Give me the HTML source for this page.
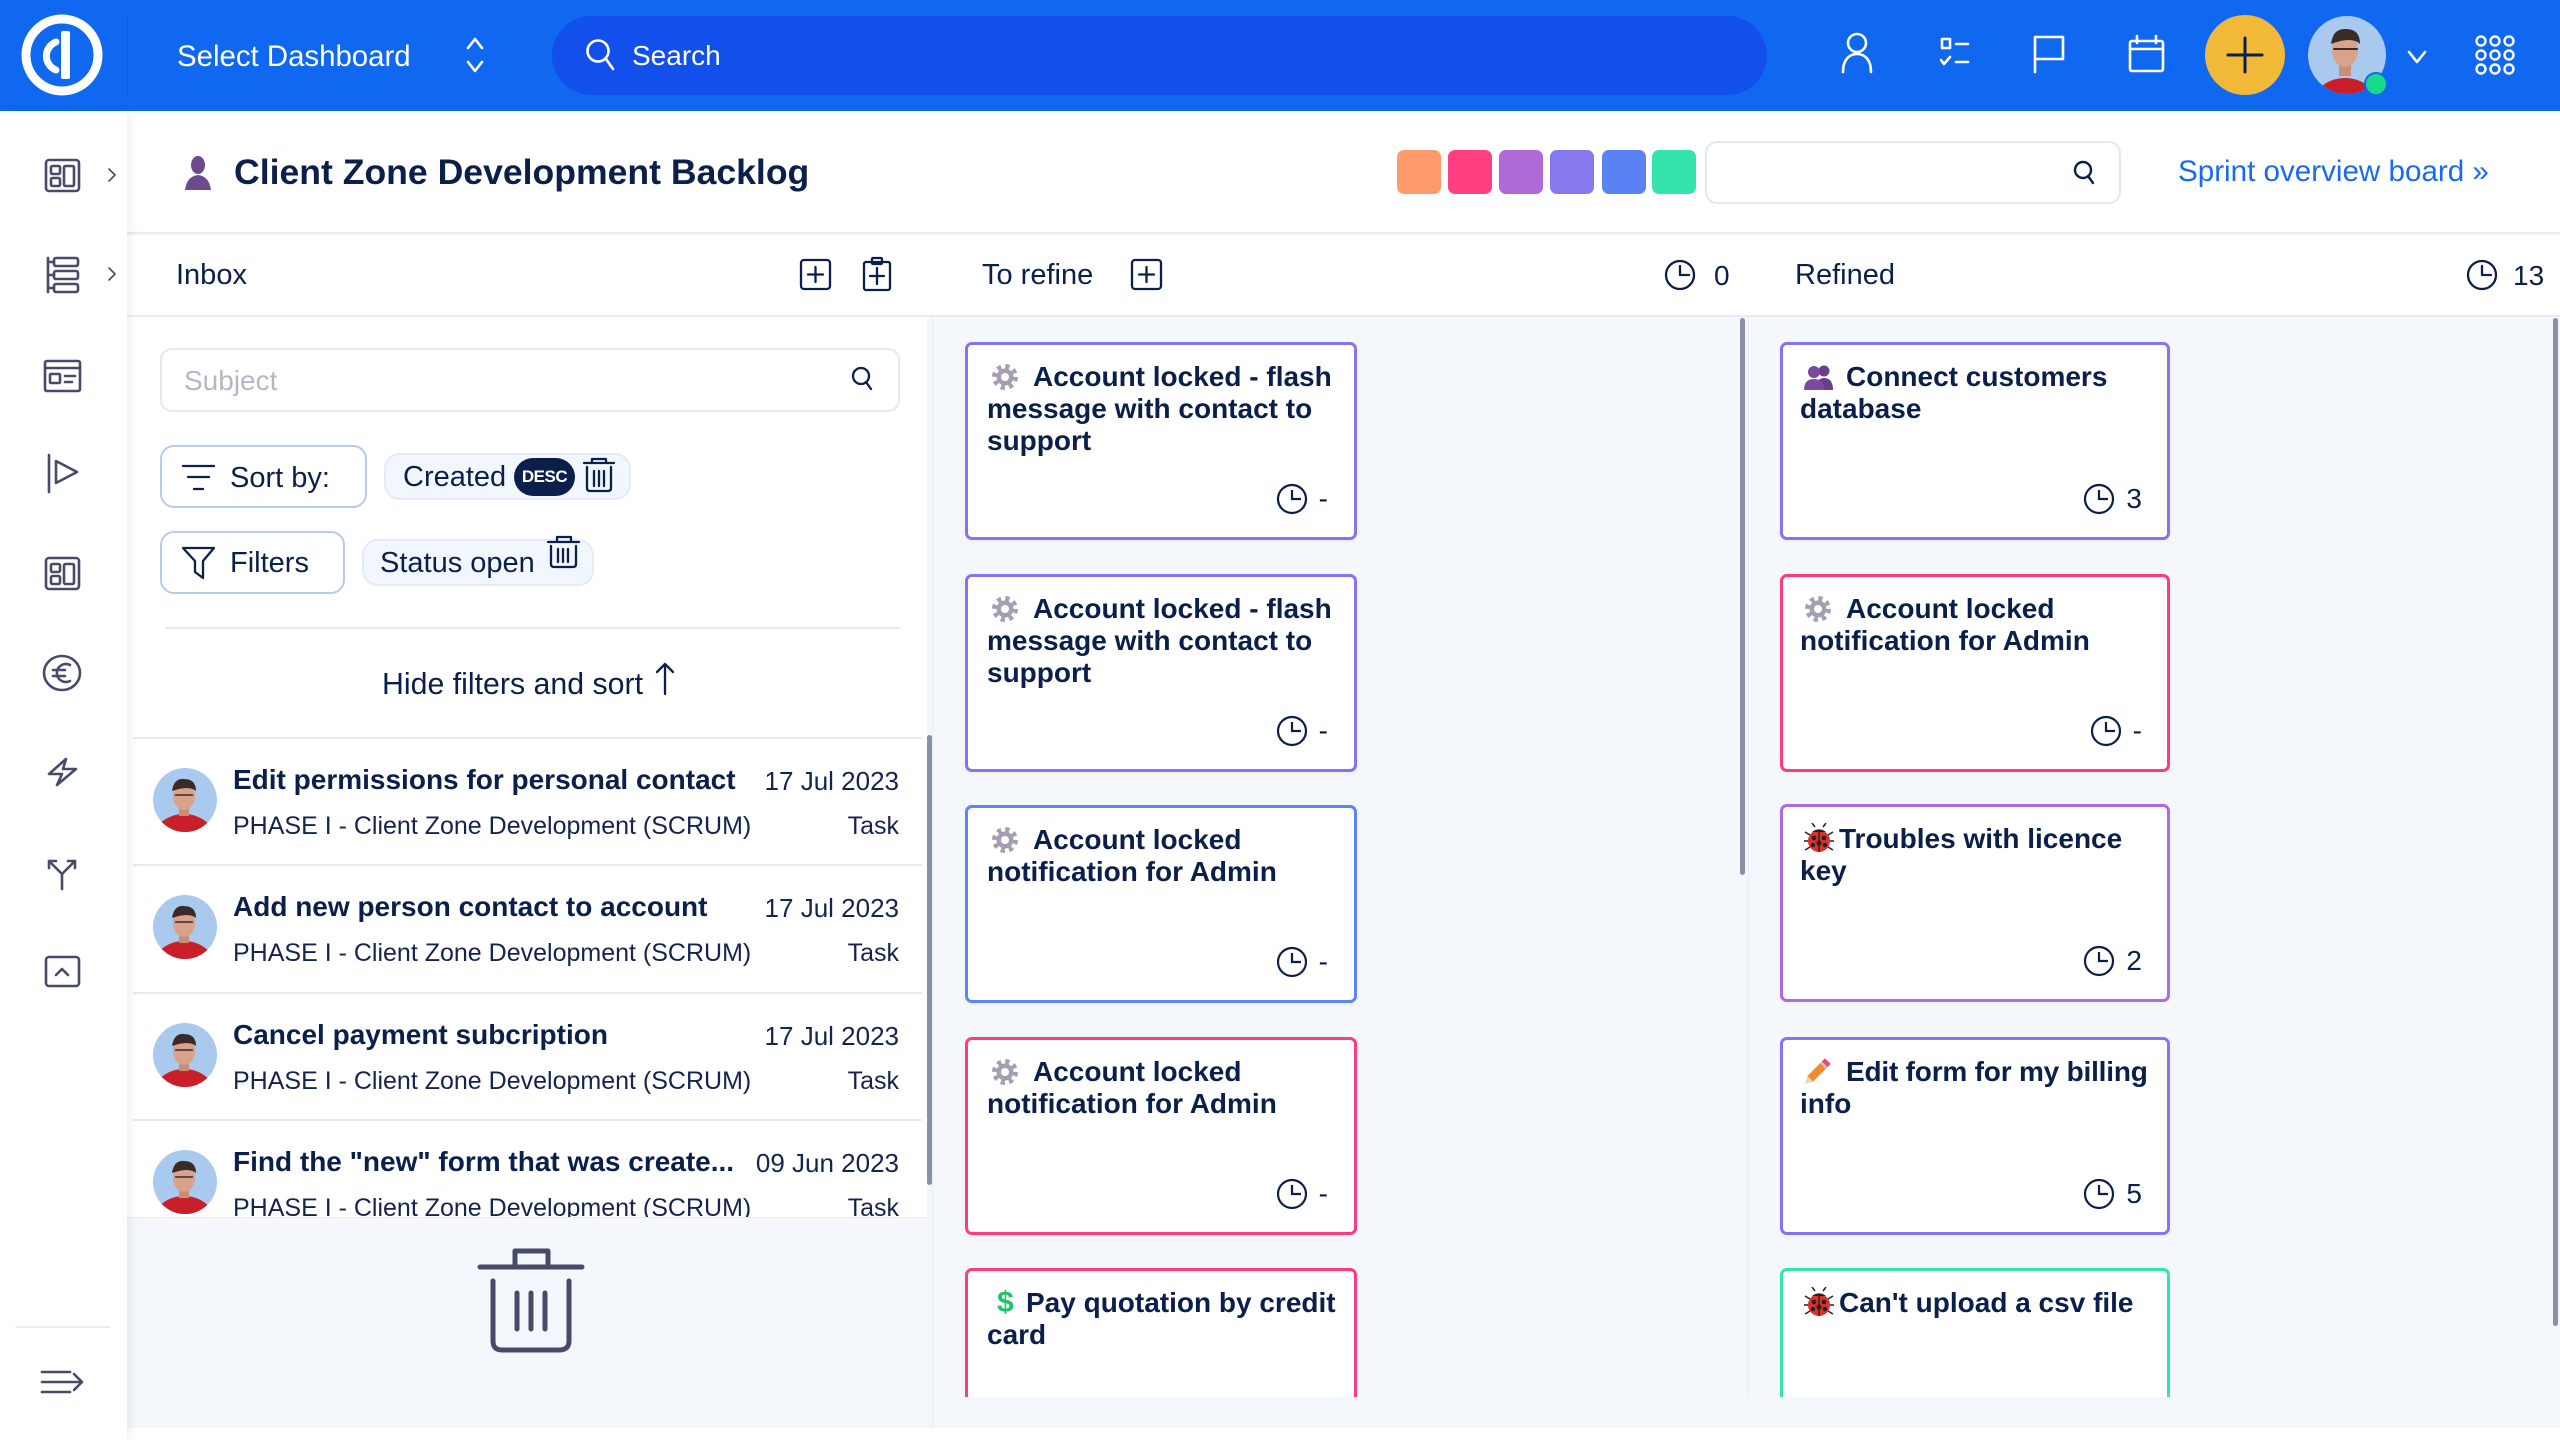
<!DOCTYPE html>
<html><head><meta charset="utf-8">
<style>
*{box-sizing:border-box}
body{margin:0;width:2560px;height:1440px;position:relative;overflow:hidden;background:#f4f8fc;font-family:"Liberation Sans",sans-serif;color:#0b1f4b}
.a{position:absolute}
.tx{position:absolute;line-height:1;white-space:nowrap}
.card{position:absolute;width:392px;height:198px;border:3px solid;border-radius:7px;background:#fff;box-shadow:0 1px 4px rgba(30,50,90,0.05)}
.t{position:absolute;font-weight:bold;font-size:28px;line-height:32px;white-space:nowrap;color:#0b1f4b}
.ic{position:absolute}
.ft{position:absolute;right:26px;top:138px;display:flex;align-items:center;height:32px;font-size:28px;line-height:32px;color:#0b1f4b}
.ft svg{margin-right:11px}
.sq{position:absolute;top:150px;width:44px;height:44px;border-radius:7px}
.it-t{position:absolute;left:106px;font-weight:bold;font-size:28px;line-height:1;white-space:nowrap}
.it-d{position:absolute;right:28px;font-size:26px;line-height:1;white-space:nowrap;color:#13244f}
.it-s{position:absolute;left:106px;font-size:25px;line-height:1;white-space:nowrap;color:#13244f}
.it-k{position:absolute;right:28px;font-size:25px;line-height:1;white-space:nowrap;color:#13244f}
.it-b{position:absolute;left:6px;width:789px;height:2px;background:#e6ebf3}
.av{position:absolute;left:26px}
</style></head><body>

<!-- top bar -->
<div class="a" style="left:0;top:0;width:2560px;height:111px;background:#1068f0;box-shadow:0 2px 4px rgba(0,0,0,0.08)"></div>
<div class="a" style="left:127px;top:15px;width:1px;height:82px;background:rgba(0,0,0,0.08)"></div>
<div class="a" style="left:552px;top:16px;width:1215px;height:79px;border-radius:40px;background:#134fea"></div>
<div class="tx" style="left:177px;top:42px;font-size:29.4px;color:#fff">Select Dashboard</div>
<div class="tx" style="left:632px;top:42px;font-size:28px;color:#fff">Search</div>

<svg class="a" style="left:0;top:0" width="2560" height="111" viewBox="0 0 2560 111" fill="none" stroke="#fff" stroke-width="2.6" stroke-linecap="round" stroke-linejoin="round">
  <!-- logo -->
  <circle cx="62" cy="55" r="36" stroke-width="9"/>
  <path d="M56 42 A15 15 0 0 0 56 70" stroke-width="7"/>
  <rect x="61" y="31" width="9" height="48" rx="2" fill="#fff" stroke="none"/>
  <!-- select chevrons -->
  <polyline points="468,48 475,39 482,48"/>
  <polyline points="468,62 475,71 482,62"/>
  <!-- search -->
  <circle cx="598" cy="51" r="10.5"/>
  <line x1="606" y1="59" x2="613" y2="69"/>
  <!-- user -->
  <circle cx="1857" cy="43" r="9"/>
  <path d="M1843 72 C1843 60 1849 54 1857 54 C1865 54 1871 60 1871 72"/>
  <!-- checklist -->
  <rect x="1942" y="39" width="8" height="9"/>
  <line x1="1956" y1="44" x2="1968" y2="44"/>
  <polyline points="1941,60 1944,64 1950,57"/>
  <line x1="1956" y1="62" x2="1968" y2="62"/>
  <!-- flag -->
  <path d="M2035 72 V37 H2063 V59 H2035"/>
  <!-- calendar -->
  <rect x="2130" y="41" width="33" height="30" rx="2"/>
  <line x1="2130" y1="49" x2="2163" y2="49"/>
  <path d="M2137 36 V43 M2156 36 V43"/>
  <!-- plus circle -->
  <circle cx="2245" cy="55" r="40" fill="#f2b938" stroke="none"/>
  <path d="M2245 38 V72 M2228 55 H2262" stroke="#0b1f4b" stroke-width="3"/>
  <!-- avatar -->
  <clipPath id="cav"><circle cx="2347" cy="55" r="39"/></clipPath>
  <g clip-path="url(#cav)" stroke="none">
    <rect x="2300" y="10" width="100" height="100" fill="#a9caee"/>
    <ellipse cx="2345" cy="108" rx="34" ry="30" fill="#c91f29"/>
    <rect x="2339" y="62" width="12" height="14" fill="#c98e78"/>
    <ellipse cx="2345" cy="50" rx="13" ry="17" fill="#d9a28a"/>
    <path d="M2331 44 Q2333 28 2346 29 Q2360 29 2360 44 Q2352 36 2331 44 Z" fill="#3b2b26"/>
    <path d="M2334 49 H2357" stroke="#3b2b26" stroke-width="2"/>
  </g>
  <circle cx="2376" cy="84" r="11" fill="#19d98b" stroke="#1068f0" stroke-width="2"/>
  <polyline points="2409,52 2417,62 2425,52"/>
  <!-- grid -->
  <g stroke-width="2.4">
  <circle cx="2481" cy="41" r="4.5"/><circle cx="2495" cy="41" r="4.5"/><circle cx="2509" cy="41" r="4.5"/>
  <circle cx="2481" cy="55" r="4.5"/><circle cx="2495" cy="55" r="4.5"/><circle cx="2509" cy="55" r="4.5"/>
  <circle cx="2481" cy="69" r="4.5"/><circle cx="2495" cy="69" r="4.5"/><circle cx="2509" cy="69" r="4.5"/>
  </g>
</svg>

<!-- title row -->
<div class="a" style="left:127px;top:111px;width:2433px;height:123px;background:#fff;border-bottom:2px solid #e6ecf4"></div>
<svg class="a" style="left:183px;top:156px" width="30" height="35" viewBox="0 0 30 35"><ellipse cx="15" cy="9" rx="7" ry="9" fill="#6b4a8e"/><path d="M2 34 Q4 20 15 19 Q26 20 28 34 Z" fill="#6b4a8e"/></svg>
<div class="tx" style="left:234px;top:155px;font-size:35.6px;font-weight:bold">Client Zone Development Backlog</div>
<div class="sq" style="left:1397px;background:#ff9a6b"></div>
<div class="sq" style="left:1448px;background:#ff3f82"></div>
<div class="sq" style="left:1499px;background:#ae6ad6"></div>
<div class="sq" style="left:1550px;background:#8679f0"></div>
<div class="sq" style="left:1602px;background:#5b82f4"></div>
<div class="sq" style="left:1652px;background:#34e4ae"></div>
<div class="a" style="left:1705px;top:141px;width:416px;height:63px;border:2px solid #e3e9f2;border-radius:12px;background:#fff"></div>
<svg class="a" style="left:2070px;top:158px" width="30" height="30" viewBox="0 0 30 30" fill="none" stroke="#0b1f4b" stroke-width="2.4" stroke-linecap="round"><circle cx="13" cy="12" r="8"/><line x1="18" y1="18" x2="23" y2="25"/></svg>
<div class="tx" style="left:2178px;top:157px;font-size:29.6px;color:#1a6af0">Sprint overview board »</div>

<!-- column header row -->
<div class="a" style="left:127px;top:235px;width:2433px;height:82px;background:#fff;border-bottom:2px solid #e6ecf4"></div>
<div class="tx" style="left:176px;top:261px;font-size:29px">Inbox</div>
<div class="tx" style="left:982px;top:261px;font-size:29px">To refine</div>
<div class="tx" style="left:1795px;top:261px;font-size:29px">Refined</div>
<div class="tx" style="left:1714px;top:262px;font-size:28px">0</div>
<div class="tx" style="left:2513px;top:262px;font-size:28px">13</div>
<svg class="a" style="left:0;top:230px" width="2560" height="70" viewBox="0 230 2560 70" fill="none" stroke="#0b1f4b" stroke-width="2.3" stroke-linecap="round" stroke-linejoin="round">
  <rect x="801" y="260" width="29" height="29" rx="3"/><path d="M815.5 267 V282 M808 274.5 H823"/>
  <rect x="864" y="262" width="26" height="28" rx="2"/><rect x="872" y="258" width="10" height="6" rx="1"/><path d="M877 268 V284 M870 276 H884"/>
  <rect x="1132" y="260" width="29" height="29" rx="3"/><path d="M1146.5 267 V282 M1139 274.5 H1154"/>
  <circle cx="1680" cy="275" r="14"/><path d="M1680 266 V275 H1689"/>
  <circle cx="2482" cy="275" r="14"/><path d="M2482 266 V275 H2491"/>
</svg>

<!-- inbox column -->
<div class="a" style="left:127px;top:317px;width:800px;height:901px;overflow:hidden;background:#fff;border-bottom:1px solid #e3e9f2">
  <div class="it-b" style="top:420px"></div>
  <svg class="av" style="top:451px" width="64" height="64" viewBox="0 0 64 64"><clipPath id="ca1"><circle cx="32" cy="32" r="32"/></clipPath><g clip-path="url(#ca1)"><rect width="64" height="64" fill="#a9caee"/><ellipse cx="31" cy="70" rx="30" ry="24" fill="#c91f29"/><rect x="26" y="38" width="10" height="10" fill="#c98e78"/><ellipse cx="31" cy="28" rx="11" ry="14" fill="#d9a28a"/><path d="M19 23 Q21 10 31 11 Q43 11 43 23 Q36 17 19 23 Z" fill="#3b2b26"/><path d="M22 27 H40" stroke="#3b2b26" stroke-width="1.6"/></g></svg>
  <div class="it-t" style="top:449px">Edit permissions for personal contact</div>
  <div class="it-d" style="top:451px">17 Jul 2023</div>
  <div class="it-s" style="top:497px">PHASE I - Client Zone Development (SCRUM)</div>
  <div class="it-k" style="top:497px">Task</div>

  <div class="it-b" style="top:547px"></div>
  <svg class="av" style="top:578px" width="64" height="64" viewBox="0 0 64 64"><clipPath id="ca2"><circle cx="32" cy="32" r="32"/></clipPath><g clip-path="url(#ca2)"><rect width="64" height="64" fill="#a9caee"/><ellipse cx="31" cy="70" rx="30" ry="24" fill="#c91f29"/><rect x="26" y="38" width="10" height="10" fill="#c98e78"/><ellipse cx="31" cy="28" rx="11" ry="14" fill="#d9a28a"/><path d="M19 23 Q21 10 31 11 Q43 11 43 23 Q36 17 19 23 Z" fill="#3b2b26"/><path d="M22 27 H40" stroke="#3b2b26" stroke-width="1.6"/></g></svg>
  <div class="it-t" style="top:576px">Add new person contact to account</div>
  <div class="it-d" style="top:578px">17 Jul 2023</div>
  <div class="it-s" style="top:624px">PHASE I - Client Zone Development (SCRUM)</div>
  <div class="it-k" style="top:624px">Task</div>

  <div class="it-b" style="top:675px"></div>
  <svg class="av" style="top:706px" width="64" height="64" viewBox="0 0 64 64"><clipPath id="ca3"><circle cx="32" cy="32" r="32"/></clipPath><g clip-path="url(#ca3)"><rect width="64" height="64" fill="#a9caee"/><ellipse cx="31" cy="70" rx="30" ry="24" fill="#c91f29"/><rect x="26" y="38" width="10" height="10" fill="#c98e78"/><ellipse cx="31" cy="28" rx="11" ry="14" fill="#d9a28a"/><path d="M19 23 Q21 10 31 11 Q43 11 43 23 Q36 17 19 23 Z" fill="#3b2b26"/><path d="M22 27 H40" stroke="#3b2b26" stroke-width="1.6"/></g></svg>
  <div class="it-t" style="top:704px">Cancel payment subcription</div>
  <div class="it-d" style="top:706px">17 Jul 2023</div>
  <div class="it-s" style="top:752px">PHASE I - Client Zone Development (SCRUM)</div>
  <div class="it-k" style="top:752px">Task</div>

  <div class="it-b" style="top:802px"></div>
  <svg class="av" style="top:833px" width="64" height="64" viewBox="0 0 64 64"><clipPath id="ca4"><circle cx="32" cy="32" r="32"/></clipPath><g clip-path="url(#ca4)"><rect width="64" height="64" fill="#a9caee"/><ellipse cx="31" cy="70" rx="30" ry="24" fill="#c91f29"/><rect x="26" y="38" width="10" height="10" fill="#c98e78"/><ellipse cx="31" cy="28" rx="11" ry="14" fill="#d9a28a"/><path d="M19 23 Q21 10 31 11 Q43 11 43 23 Q36 17 19 23 Z" fill="#3b2b26"/><path d="M22 27 H40" stroke="#3b2b26" stroke-width="1.6"/></g></svg>
  <div class="it-t" style="top:831px">Find the "new" form that was create...</div>
  <div class="it-d" style="top:833px">09 Jun 2023</div>
  <div class="it-s" style="top:879px">PHASE I - Client Zone Development (SCRUM)</div>
  <div class="it-k" style="top:879px">Task</div>
</div>
<div class="a" style="left:927px;top:735px;width:5px;height:450px;border-radius:3px;background:#8891a6"></div>
<div class="a" style="left:932px;top:317px;width:1px;height:1110px;background:#e6ebf2"></div>

<!-- filters -->
<div class="a" style="left:160px;top:348px;width:740px;height:64px;border:2px solid #e3e9f2;border-radius:12px;background:#fff"></div>
<div class="tx" style="left:184px;top:367px;font-size:28px;color:#b3b8c2">Subject</div>
<div class="a" style="left:160px;top:445px;width:207px;height:63px;border:2px solid #b8cbe8;border-radius:14px;background:#fff"></div>
<div class="tx" style="left:230px;top:464px;font-size:29px">Sort by:</div>
<div class="a" style="left:384px;top:453px;width:247px;height:47px;border:2px solid #e3ebf5;border-radius:16px;background:#f2f7fd"></div>
<div class="tx" style="left:403px;top:463px;font-size:29px">Created</div>
<div class="a" style="left:514px;top:458px;width:61px;height:38px;border-radius:19px;background:#0b1f4b;color:#fff;font-weight:bold;font-size:17px;line-height:38px;text-align:center;letter-spacing:-0.5px">DESC</div>
<div class="a" style="left:160px;top:531px;width:185px;height:63px;border:2px solid #b8cbe8;border-radius:14px;background:#fff"></div>
<div class="tx" style="left:230px;top:549px;font-size:29px">Filters</div>
<div class="a" style="left:362px;top:539px;width:232px;height:47px;border:2px solid #e3ebf5;border-radius:16px;background:#f2f7fd"></div>
<div class="tx" style="left:380px;top:549px;font-size:29px">Status open</div>
<div class="a" style="left:165px;top:627px;width:735px;height:2px;background:#e6ebf3"></div>
<div class="tx" style="left:382px;top:670px;font-size:30.3px">Hide filters and sort</div>
<svg class="a" style="left:0;top:330px" width="930" height="400" viewBox="0 330 930 400" fill="none" stroke="#0b1f4b" stroke-width="2.3" stroke-linecap="round" stroke-linejoin="round">
  <circle cx="861" cy="376" r="8"/><line x1="866" y1="382" x2="871" y2="389"/>
  <path d="M183 466 H214 M188 477 H209 M194 489 H203"/>
  <path d="M584 463 H614 M592 463 V459 H606 V463 M587 467 V488 Q587 491 590 491 H608 Q611 491 611 488 V467 M594 471 V486 M599 471 V486 M604 471 V486"/>
  <path d="M183 548 H214 L203 561 V578 L195 572 V561 Z"/>
  <path d="M548 563 H579 M557 563 V558 H571 V563 M551 567 V585 Q551 588 554 588 H573 Q576 588 576 585 V567 M558 570 V583 M563 570 V583 M568 570 V583" transform="translate(0,-21)"/>
  <path d="M665 694 V664 M657 672 L665 664 L673 672"/>
</svg>
<!-- big trash -->
<svg class="a" style="left:476px;top:1246px" width="110" height="110" viewBox="0 0 110 110" fill="none" stroke="#454b68" stroke-width="5" stroke-linecap="round" stroke-linejoin="round">
  <path d="M4 21 H106 M39 21 V5 H72 V21"/>
  <path d="M17 35 V95 Q17 104 26 104 H83 Q93 104 93 95 V35"/>
  <path d="M41 47 V83 M55 47 V83 M69 47 V83"/>
</svg>

<!-- board -->
<div class="a" style="left:933px;top:317px;width:1627px;height:1080px;overflow:hidden">
  <!-- To refine -->
  <div class="card" style="left:32px;top:25px;border-color:#8574f2">
    <svg class="ic" style="left:23px;top:18px" width="28" height="28" viewBox="0 0 28 28"><circle cx="14" cy="14" r="10.5" fill="none" stroke="#a59db2" stroke-width="5" stroke-dasharray="4.1 4.15"/><circle cx="14" cy="14" r="8.5" fill="#a59db2"/><circle cx="14" cy="14" r="4" fill="#fff"/></svg>
    <div class="t" style="left:65px;top:16px">Account locked - flash</div>
    <div class="t" style="left:19px;top:48px">message with contact to</div>
    <div class="t" style="left:19px;top:80px">support</div>
    <div class="ft"><svg width="32" height="32" viewBox="0 0 32 32" fill="none" stroke="#0b1f4b" stroke-width="2.2"><circle cx="16" cy="16" r="14"/><path d="M16 7 V16 H25"/></svg><span>-</span></div>
  </div>
  <div class="card" style="left:32px;top:257px;border-color:#8574f2">
    <svg class="ic" style="left:23px;top:18px" width="28" height="28" viewBox="0 0 28 28"><circle cx="14" cy="14" r="10.5" fill="none" stroke="#a59db2" stroke-width="5" stroke-dasharray="4.1 4.15"/><circle cx="14" cy="14" r="8.5" fill="#a59db2"/><circle cx="14" cy="14" r="4" fill="#fff"/></svg>
    <div class="t" style="left:65px;top:16px">Account locked - flash</div>
    <div class="t" style="left:19px;top:48px">message with contact to</div>
    <div class="t" style="left:19px;top:80px">support</div>
    <div class="ft"><svg width="32" height="32" viewBox="0 0 32 32" fill="none" stroke="#0b1f4b" stroke-width="2.2"><circle cx="16" cy="16" r="14"/><path d="M16 7 V16 H25"/></svg><span>-</span></div>
  </div>
  <div class="card" style="left:32px;top:488px;border-color:#5c85f5">
    <svg class="ic" style="left:23px;top:18px" width="28" height="28" viewBox="0 0 28 28"><circle cx="14" cy="14" r="10.5" fill="none" stroke="#a59db2" stroke-width="5" stroke-dasharray="4.1 4.15"/><circle cx="14" cy="14" r="8.5" fill="#a59db2"/><circle cx="14" cy="14" r="4" fill="#fff"/></svg>
    <div class="t" style="left:65px;top:16px">Account locked</div>
    <div class="t" style="left:19px;top:48px">notification for Admin</div>
    <div class="ft"><svg width="32" height="32" viewBox="0 0 32 32" fill="none" stroke="#0b1f4b" stroke-width="2.2"><circle cx="16" cy="16" r="14"/><path d="M16 7 V16 H25"/></svg><span>-</span></div>
  </div>
  <div class="card" style="left:32px;top:720px;border-color:#ff3b7f">
    <svg class="ic" style="left:23px;top:18px" width="28" height="28" viewBox="0 0 28 28"><circle cx="14" cy="14" r="10.5" fill="none" stroke="#a59db2" stroke-width="5" stroke-dasharray="4.1 4.15"/><circle cx="14" cy="14" r="8.5" fill="#a59db2"/><circle cx="14" cy="14" r="4" fill="#fff"/></svg>
    <div class="t" style="left:65px;top:16px">Account locked</div>
    <div class="t" style="left:19px;top:48px">notification for Admin</div>
    <div class="ft"><svg width="32" height="32" viewBox="0 0 32 32" fill="none" stroke="#0b1f4b" stroke-width="2.2"><circle cx="16" cy="16" r="14"/><path d="M16 7 V16 H25"/></svg><span>-</span></div>
  </div>
  <div class="card" style="left:32px;top:951px;border-color:#ff3b7f">
    <div class="t" style="left:29px;top:16px;color:#1fc46a;font-size:30px">$</div>
    <div class="t" style="left:58px;top:16px">Pay quotation by credit</div>
    <div class="t" style="left:19px;top:48px">card</div>
  </div>

  <!-- Refined -->
  <div class="card" style="left:847px;top:25px;width:390px;border-color:#8574f2">
    <svg class="ic" style="left:21px;top:19px" width="30" height="26" viewBox="0 0 30 26"><circle cx="20" cy="7" r="5.5" fill="#6a3d8d"/><path d="M12 26 Q12 14 20 14 Q29 14 29 26 Z" fill="#6a3d8d"/><circle cx="10" cy="8" r="6" fill="#7a4a9e"/><path d="M0 26 Q0 15 10 15 Q20 15 20 26 Z" fill="#7a4a9e"/></svg>
    <div class="t" style="left:63px;top:16px">Connect customers</div>
    <div class="t" style="left:17px;top:48px">database</div>
    <div class="ft" style="right:25px"><svg width="32" height="32" viewBox="0 0 32 32" fill="none" stroke="#0b1f4b" stroke-width="2.2"><circle cx="16" cy="16" r="14"/><path d="M16 7 V16 H25"/></svg><span>3</span></div>
  </div>
  <div class="card" style="left:847px;top:257px;width:390px;border-color:#ff3b7f">
    <svg class="ic" style="left:21px;top:18px" width="28" height="28" viewBox="0 0 28 28"><circle cx="14" cy="14" r="10.5" fill="none" stroke="#a59db2" stroke-width="5" stroke-dasharray="4.1 4.15"/><circle cx="14" cy="14" r="8.5" fill="#a59db2"/><circle cx="14" cy="14" r="4" fill="#fff"/></svg>
    <div class="t" style="left:63px;top:16px">Account locked</div>
    <div class="t" style="left:17px;top:48px">notification for Admin</div>
    <div class="ft" style="right:25px"><svg width="32" height="32" viewBox="0 0 32 32" fill="none" stroke="#0b1f4b" stroke-width="2.2"><circle cx="16" cy="16" r="14"/><path d="M16 7 V16 H25"/></svg><span>-</span></div>
  </div>
  <div class="card" style="left:847px;top:487px;width:390px;border-color:#b16ad9">
    <svg class="ic" style="left:21px;top:16px" width="30" height="30" viewBox="0 0 30 30"><path d="M6 12 L1 9 M5 18 L0 18 M6 24 L1 27 M24 12 L29 9 M25 18 L30 18 M24 24 L29 27 M11 4 L8 0 M19 4 L22 0" stroke="#222" stroke-width="1.5"/><circle cx="15" cy="18" r="11" fill="#e2302e"/><path d="M8 9 A9 7 0 0 1 22 9 Z" fill="#222"/><path d="M15 8 V29" stroke="#222" stroke-width="1.5"/><circle cx="10" cy="15" r="2.4" fill="#222"/><circle cx="20" cy="15" r="2.4" fill="#222"/><circle cx="9" cy="22" r="2.2" fill="#222"/><circle cx="21" cy="22" r="2.2" fill="#222"/><circle cx="15" cy="20" r="2.6" fill="#222"/></svg>
    <div class="t" style="left:56px;top:16px">Troubles with licence</div>
    <div class="t" style="left:17px;top:48px">key</div>
    <div class="ft" style="right:25px"><svg width="32" height="32" viewBox="0 0 32 32" fill="none" stroke="#0b1f4b" stroke-width="2.2"><circle cx="16" cy="16" r="14"/><path d="M16 7 V16 H25"/></svg><span>2</span></div>
  </div>
  <div class="card" style="left:847px;top:720px;width:390px;border-color:#8574f2">
    <svg class="ic" style="left:20px;top:16px" width="30" height="30" viewBox="0 0 30 30"><g transform="rotate(-45 15 15)"><rect x="4" y="11" width="22" height="8" fill="#f7892d"/><rect x="24" y="11" width="5" height="8" fill="#ef4a6e"/><rect x="22" y="11" width="2.5" height="8" fill="#c9c3c9"/><polygon points="4,11 4,19 -3,15" fill="#f3d3a0"/></g></svg>
    <div class="t" style="left:63px;top:16px;letter-spacing:-0.2px">Edit form for my billing</div>
    <div class="t" style="left:17px;top:48px">info</div>
    <div class="ft" style="right:25px"><svg width="32" height="32" viewBox="0 0 32 32" fill="none" stroke="#0b1f4b" stroke-width="2.2"><circle cx="16" cy="16" r="14"/><path d="M16 7 V16 H25"/></svg><span>5</span></div>
  </div>
  <div class="card" style="left:847px;top:951px;width:390px;border-color:#35e3ad">
    <svg class="ic" style="left:21px;top:16px" width="30" height="30" viewBox="0 0 30 30"><path d="M6 12 L1 9 M5 18 L0 18 M6 24 L1 27 M24 12 L29 9 M25 18 L30 18 M24 24 L29 27 M11 4 L8 0 M19 4 L22 0" stroke="#222" stroke-width="1.5"/><circle cx="15" cy="18" r="11" fill="#e2302e"/><path d="M8 9 A9 7 0 0 1 22 9 Z" fill="#222"/><path d="M15 8 V29" stroke="#222" stroke-width="1.5"/><circle cx="10" cy="15" r="2.4" fill="#222"/><circle cx="20" cy="15" r="2.4" fill="#222"/><circle cx="9" cy="22" r="2.2" fill="#222"/><circle cx="21" cy="22" r="2.2" fill="#222"/><circle cx="15" cy="20" r="2.6" fill="#222"/></svg>
    <div class="t" style="left:56px;top:16px">Can't upload a csv file</div>
  </div>
</div>
<!-- scrollbars -->
<div class="a" style="left:1740px;top:318px;width:5px;height:557px;border-radius:3px;background:#8891a6"></div>
<div class="a" style="left:1748px;top:317px;width:1px;height:1080px;background:#e8edf3"></div>
<div class="a" style="left:2553px;top:318px;width:5px;height:1008px;border-radius:3px;background:#8891a6"></div>
<!-- bottom white strip -->
<div class="a" style="left:127px;top:1428px;width:2433px;height:12px;background:#fff"></div>

<!-- sidebar -->
<div class="a" style="left:0;top:111px;width:127px;height:1329px;background:#fff;box-shadow:3px 0 10px rgba(20,40,80,0.07)"></div>
<svg class="a" style="left:0;top:111px" width="127" height="1329" viewBox="0 111 127 1329" fill="none" stroke="#454b68" stroke-width="2.6" stroke-linecap="round" stroke-linejoin="round">
  <rect x="46" y="160" width="33" height="31" rx="3"/><rect x="51" y="166" width="9" height="8" rx="1.5"/><rect x="51" y="178" width="9" height="8" rx="1.5"/><rect x="64" y="166" width="10" height="20" rx="1.5"/>
  <path d="M109 169 L115 175 L109 181" stroke-width="1.6"/>
  <path d="M48 258 V292 M48 262 H54 M48 275 H54 M48 288 H54"/><rect x="54" y="258" width="24" height="8" rx="2"/><rect x="54" y="271" width="24" height="8" rx="2"/><rect x="54" y="284" width="24" height="8" rx="2"/>
  <path d="M109 268 L115 274 L109 280" stroke-width="1.6"/>
  <rect x="45" y="361" width="35" height="30" rx="2"/><path d="M45 368 H80"/><rect x="50" y="374" width="10" height="9" rx="1"/><path d="M65 376 H75 M65 382 H72"/>
  <path d="M49 455 V492 M56 461 L77 472 L56 483 Z"/>
  <rect x="46" y="558" width="33" height="31" rx="3"/><rect x="51" y="564" width="9" height="8" rx="1.5"/><rect x="51" y="576" width="9" height="8" rx="1.5"/><rect x="64" y="564" width="10" height="20" rx="1.5"/>
  <ellipse cx="62" cy="673" rx="18" ry="17"/><path d="M70 665 A9 9 0 1 0 70 681 M53 670 H65 M53 676 H65"/>
  <path d="M66 759 L49 774 H62 L57 785 L76 769 H63 Z"/>
  <path d="M62 889 V874 L49 861 M62 874 L75 861 M49 861 H56 M49 861 V868 M75 861 H68 M75 861 V868"/>
  <rect x="46" y="957" width="33" height="29" rx="3"/><path d="M56 975 L62 969 L68 975"/>
  <path d="M16 1327 H110" stroke="#e3e7ee" stroke-width="1.5"/>
  <path d="M42 1372 H70 M42 1382 H82 M42 1392 H70 M74 1374 L82 1382 L74 1390"/>
</svg>

</body></html>
